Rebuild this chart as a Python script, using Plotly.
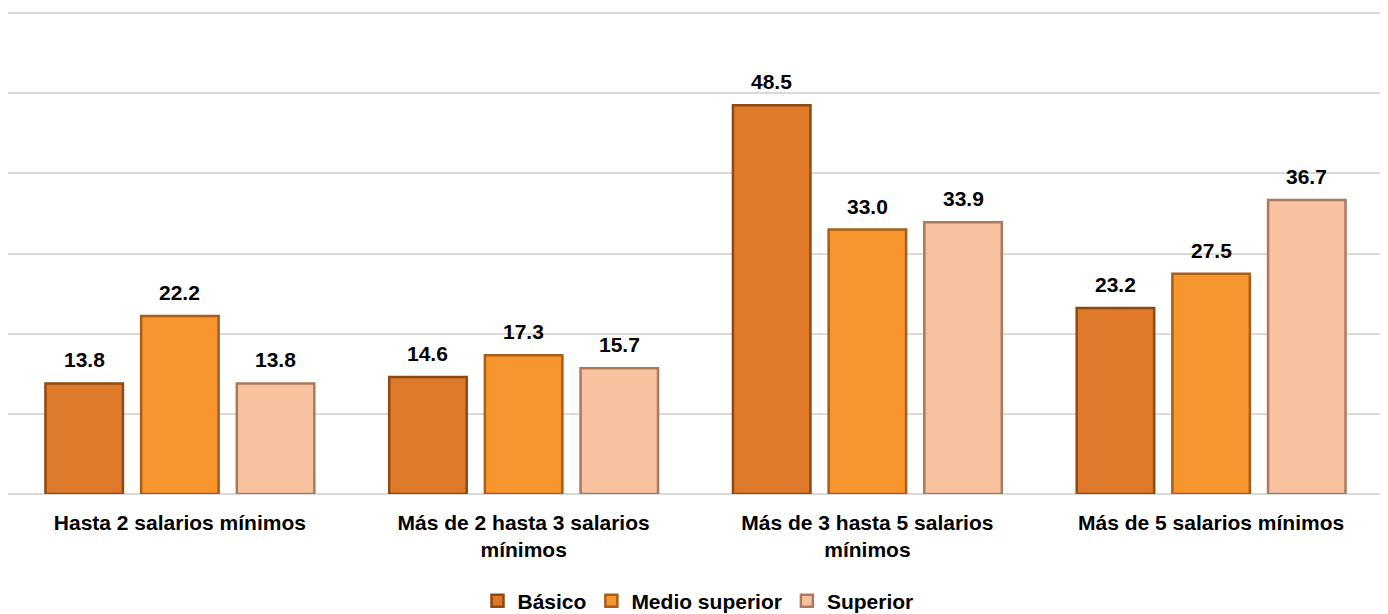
import plotly.graph_objects as go

categories = ["Hasta 2 salarios mínimos", "Más de 2 hasta 3 salarios<br>mínimos",
              "Más de 3 hasta 5 salarios<br>mínimos", "Más de 5 salarios mínimos"]
basico = [13.8, 14.6, 48.5, 23.2]
medio_superior = [22.2, 17.3, 33.0, 27.5]
superior = [13.8, 15.7, 33.9, 36.7]

series = [
    ("Básico", basico, "#DE7A29", "#8F4912"),
    ("Medio superior", medio_superior, "#F7952E", "#A85E18"),
    ("Superior", superior, "#F8C2A0", "#A97A5E"),
]

FONT = "Liberation Sans, Arial"
BARGAP = 0.165
W, H = 1380, 606
ML, MR, MT, MB = 0, 5, 4, 120
PLOT_W = W - ML - MR
slot_px = PLOT_W / 4 * (1 - BARGAP) / 3

fig = go.Figure()
annotations = []
for i, (name, vals, col, line) in enumerate(series):
    fig.add_trace(go.Bar(
        name=name, x=categories, y=vals,
        marker=dict(color=col, line=dict(color=line, width=2.5)),
    ))
    for c, v in zip(categories, vals):
        annotations.append(dict(
            x=c, y=v, xref="x", yref="y", text=f"{v:.1f}", showarrow=False,
            xshift=(i - 1) * slot_px, yshift=10, yanchor="bottom",
            font=dict(family=FONT, size=21, color="#000000", weight="bold"),
        ))

fig.update_layout(
    width=W, height=H,
    margin=dict(l=ML, r=MR, t=MT, b=MB, autoexpand=False),
    paper_bgcolor="white", plot_bgcolor="white",
    barmode="group", bargap=BARGAP, bargroupgap=0.19,
    font=dict(family=FONT, size=21, color="#000000"),
    annotations=annotations,
    legend=dict(orientation="h", x=0.5, xanchor="center", xref="container",
                y=-0.222, yanchor="middle", yref="paper",
                font=dict(size=21, weight="bold"), itemwidth=30, traceorder="normal"),
    xaxis=dict(showline=False, ticks="", automargin=False, ticklabelstandoff=14,
               tickfont=dict(size=21, weight="bold")),
    yaxis=dict(range=[0, 60.15], dtick=10, showticklabels=False, showgrid=True,
               gridcolor="#D9D9D9", gridwidth=2, zeroline=True, zerolinecolor="#D9D9D9",
               zerolinewidth=2, automargin=False),
)

fig.write_html("out.html")
